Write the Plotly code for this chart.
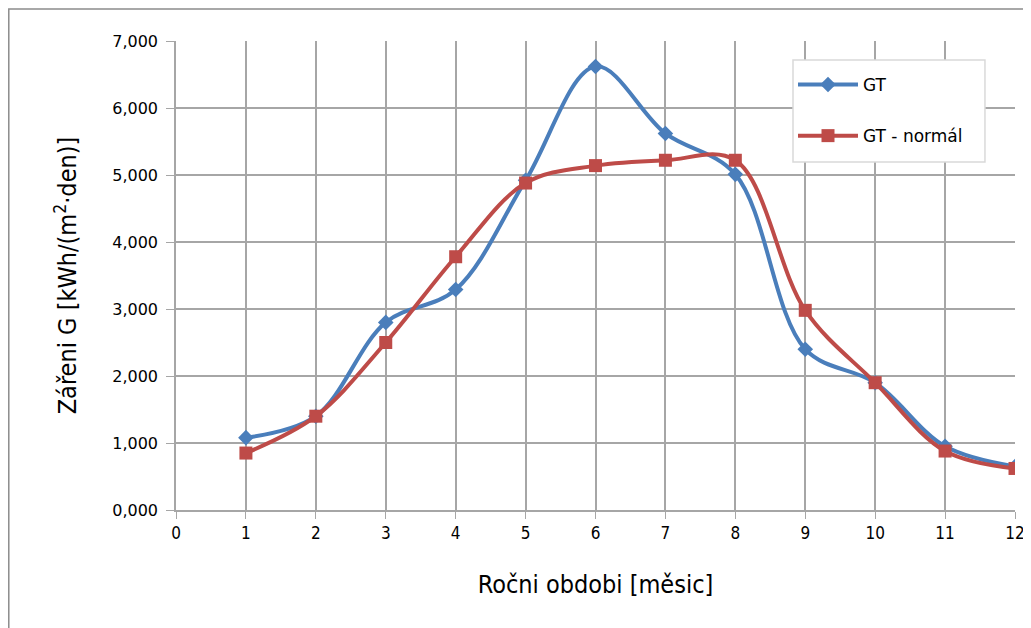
import plotly.graph_objects as go

months = [1, 2, 3, 4, 5, 6, 7, 8, 9, 10, 11, 12]
gt = [1.08, 1.40, 2.80, 3.29, 4.92, 6.62, 5.62, 5.01, 2.40, 1.90, 0.95, 0.65]
gt_normal = [0.85, 1.40, 2.50, 3.78, 4.88, 5.14, 5.22, 5.22, 2.98, 1.90, 0.88, 0.62]
y_ticks = [0, 1, 2, 3, 4, 5, 6, 7]
x_ticks = list(range(0, 13))

blue = "#4A7EBB"
red = "#BE4B48"
grid = "#A6A6A6"
narrow = "DejaVu Sans Condensed, Liberation Sans Narrow, Liberation Sans"

fig = go.Figure()
fig.add_trace(go.Scatter(
    x=months, y=gt, name="GT", mode="lines+markers",
    line=dict(color=blue, width=4, shape="spline", smoothing=1.0),
    marker=dict(symbol="diamond", size=12, color=blue),
    legendgroup="a",
))
fig.add_trace(go.Scatter(
    x=months, y=gt_normal, name="GT - normál", mode="lines+markers",
    line=dict(color=red, width=4, shape="spline", smoothing=1.0),
    marker=dict(symbol="square", size=13, color=red),
    legendgroup="b",
))

fig.update_layout(
    width=1023, height=620,
    margin=dict(l=168, r=16, t=33, b=118, autoexpand=False),
    paper_bgcolor="white", plot_bgcolor="white",
    separators=", ",
    font=dict(family="DejaVu Sans", color="#000000"),
    legend=dict(
        x=0.7354, y=0.9446, xanchor="left", yanchor="top",
        borderwidth=0, bgcolor="rgba(0,0,0,0)",
        font=dict(family="DejaVu Sans", size=17),
        tracegroupgap=26, itemwidth=60,
    ),
    xaxis=dict(
        range=[0, 12], tickvals=x_ticks, ticktext=[str(v) for v in x_ticks],
        showgrid=True, gridcolor=grid, gridwidth=1.5,
        showline=True, linecolor=grid, linewidth=1.5,
        ticks="outside", ticklen=7, tickcolor=grid,
        tickfont=dict(family=narrow, size=17),
        title=dict(text="Ročni obdobi [měsic]", standoff=33,
                   font=dict(family=narrow, size=25)),
        zeroline=False, fixedrange=True,
    ),
    yaxis=dict(
        range=[0, 7], tickvals=y_ticks, tickformat=".3f",
        showgrid=True, gridcolor=grid, gridwidth=1.5,
        showline=True, linecolor=grid, linewidth=1.5,
        ticks="outside", ticklen=8, tickcolor=grid,
        ticklabelstandoff=5,
        tickfont=dict(family="DejaVu Sans", size=16),
        title=dict(text="Zářeni G [kWh/(m<sup>2</sup>·den)]", standoff=28,
                   font=dict(family=narrow, size=25)),
        zeroline=False, fixedrange=True,
    ),
    shapes=[
        dict(
            type="rect", xref="paper", yref="paper",
            x0=-0.1993, x1=1.2, y0=-0.5, y1=1.0682,
            line=dict(color="#8C8C8C", width=1.5), layer="below",
        ),
        dict(
            type="rect", xref="paper", yref="paper",
            x0=0.7354, x1=0.9642, y0=0.742, y1=0.9595,
            line=dict(color="#D9D9D9", width=1.5), fillcolor="white",
            layer="above",
        ),
    ],
)

fig.write_html("out.html")
